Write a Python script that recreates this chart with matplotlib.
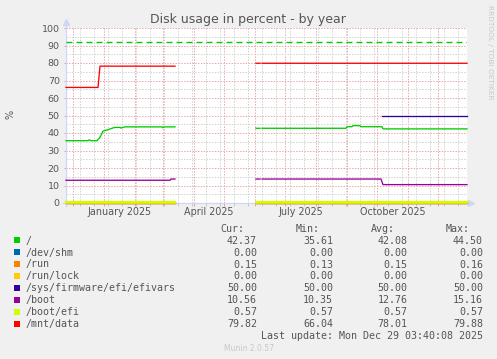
import numpy as np
import pandas as pd
import matplotlib
matplotlib.use("Agg")
import matplotlib.pyplot as plt
from matplotlib.patches import Rectangle

nan = np.nan

# days since 2024-11-24 (400 day munin "by year" window)
root_x = [0, 22, 23, 24, 25, 31, 34, 36, 37, 41, 46, 49, 54, 55, 57, 59, 96, 97, 98, 109,
          150, 190, 194, 195, 196, 280, 281, 286, 287, 294, 295, 316, 317, 401]
root_y = [35.6, 35.6, 36.0, 36.0, 35.6, 35.6, 37.5, 39.8, 41.1, 41.7, 42.7, 43.2, 43.2, 42.8, 43.2, 43.5,
          43.5, 43.0, 43.5, 43.5,
          nan, 42.7, 42.7, nan, 42.7, 42.7, 43.6, 43.6, 44.2, 44.2, 43.6, 43.6, 42.35, 42.35]

flat_x = [0, 109, 150, 190, 194, 195, 196, 401]
shm_y = [0.0, 0.0, nan, 0.0, 0.0, nan, 0.0, 0.0]
run_y = [0.15, 0.15, nan, 0.15, 0.15, nan, 0.15, 0.15]
lock_y = [0.0, 0.0, nan, 0.0, 0.0, nan, 0.0, 0.0]
efi_y = [0.57, 0.57, nan, 0.57, 0.57, nan, 0.57, 0.57]

efivars_x = [316, 401]
efivars_y = [50.0, 50.0]

boot_x = [0, 104, 105, 109, 150, 190, 194, 195, 196, 315, 317, 401]
boot_y = [13.0, 13.0, 13.7, 13.7, nan, 13.7, 13.7, nan, 13.7, 13.7, 10.5, 10.5]

data_x = [0, 32, 34, 109, 150, 190, 194, 195, 196, 401]
data_y = [66.04, 66.04, 78.2, 78.2, nan, 79.85, 79.85, nan, 79.85, 79.85]

warning = 92

names = ["/", "/dev/shm", "/run", "/run/lock", "/sys/firmware/efi/efivars",
         "/boot", "/boot/efi", "/mnt/data"]
colors = ["#00CC00", "#0066B3", "#FF8000", "#FFCC00", "#330099",
          "#990099", "#CCFF00", "#FF0000"]
cur = [42.37, 0.00, 0.15, 0.00, 50.00, 10.56, 0.57, 79.82]
mins = [35.61, 0.00, 0.13, 0.00, 50.00, 10.35, 0.57, 66.04]
avgs = [42.08, 0.00, 0.15, 0.00, 50.00, 12.76, 0.57, 78.01]
maxs = [44.50, 0.00, 0.16, 0.00, 50.00, 15.16, 0.57, 79.88]

start = pd.Timestamp("2024-11-24")
month_starts = pd.date_range("2024-12-01", "2025-12-01", freq="MS")
month_days = np.array((month_starts - start).days)
label_months = pd.to_datetime(["2025-01-01", "2025-04-01", "2025-07-01", "2025-10-01"])
label_days = [(m - start).days + m.days_in_month / 2 for m in label_months]
label_text = [m.strftime("%B %Y") for m in label_months]

W, H = 497, 359
TXT = "#555555"
fig = plt.figure(figsize=(W / 100, H / 100), dpi=100, facecolor="#F0F0F0")


def fx(px):
    return px / W


def fy(py):
    return 1 - py / H


ax = fig.add_axes([fx(66), fy(203), fx(467) - fx(66), fy(28) - fy(203)])
ax.set_facecolor("white")
ax.set_xlim(0, 401)
ax.set_ylim(0, 100)
for s in ax.spines.values():
    s.set_visible(False)

ax.set_xticks(month_days)
ax.set_xticks(np.arange(13.5, 401, 14), minor=True)
ax.set_xticklabels([])
ax.set_yticks(range(0, 101, 10))
ax.set_yticks(range(5, 100, 10), minor=True)
ax.set_yticklabels([str(v) for v in range(0, 101, 10)], fontsize=6.8, color=TXT)
ax.tick_params(axis="x", which="major", length=2.2, width=0.72, color="#E8A0A0")
ax.tick_params(axis="x", which="minor", length=2.2, width=0.72, color="#C8C8C8")
ax.tick_params(axis="y", which="major", length=1.5, width=0.72, color="#E8A0A0", pad=3)
ax.tick_params(axis="y", which="minor", length=0)
ax.grid(which="major", color="#E8A8A8", ls=(0, (1.4, 1.4)), lw=0.72)
ax.grid(which="minor", color="#D2D2D2", ls=(0, (1.4, 1.4)), lw=0.72)
ax.set_axisbelow(True)

for d, t in zip(label_days, label_text):
    ax.text(d, -0.052, t, transform=ax.get_xaxis_transform(), ha="center", va="center",
            fontsize=6.9, color=TXT)

# axes lines + arrows
ax.plot([0, 0], [-0.015, 1.02], transform=ax.transAxes, color="#CFD6F8", lw=0.9, clip_on=False)
ax.plot([-0.007, 1.005], [0, 0], transform=ax.transAxes, color="#CFD6F8", lw=0.9, clip_on=False)
ax.plot([0], [1.032], transform=ax.transAxes, marker="^", ms=4, color="#CFD6F8", clip_on=False)
ax.plot([1.01], [0], transform=ax.transAxes, marker=">", ms=4, color="#CFD6F8", clip_on=False)

ax.axhline(warning, color="#00CC00", lw=1.0, ls=(0, (4.3, 2.9)))

lw = 0.95
ax.plot(root_x, root_y, color=colors[0], lw=lw, clip_on=False)
ax.plot(flat_x, shm_y, color=colors[1], lw=lw, clip_on=False)
ax.plot(flat_x, run_y, color=colors[2], lw=lw, clip_on=False)
ax.plot(flat_x, lock_y, color=colors[3], lw=lw, clip_on=False)
ax.plot(efivars_x, efivars_y, color=colors[4], lw=lw, clip_on=False)
ax.plot(boot_x, boot_y, color=colors[5], lw=lw, clip_on=False)
ax.plot(flat_x, efi_y, color=colors[6], lw=1.6, clip_on=False)
ax.plot(data_x, data_y, color=colors[7], lw=lw, clip_on=False)

# title and side texts
fig.text(fx(248), fy(19), "Disk usage in percent - by year", ha="center", va="center",
         fontsize=9, color=TXT)
fig.text(fx(10), fy(114), "%", ha="center", va="center", rotation=90, fontsize=7, color=TXT)
fig.text(fx(490), fy(52), "RRDTOOL / TOBI OETIKER", ha="center", va="center", rotation=270,
         fontsize=5.3, color="#C8C8C8")

# legend
mono = "DejaVu Sans Mono"
fs = 7.2
hdr_y = 228.5
for t, xr in zip(["Cur:", "Min:", "Avg:", "Max:"], [244.3, 320, 395, 470]):
    fig.text(fx(xr), fy(hdr_y + 3.6), t, ha="right", va="baseline", family=mono,
             fontsize=fs, color=TXT)

for i, n in enumerate(names):
    ry = 240 + 11.95 * i
    fig.patches.append(Rectangle((fx(14), fy(ry + 3)), 6 / W, 6 / H, transform=fig.transFigure,
                                 facecolor=colors[i], edgecolor="none"))
    fig.text(fx(26), fy(ry + 3.6), n, ha="left", va="baseline", family=mono, fontsize=fs, color=TXT)
    for v, xr in zip([cur[i], mins[i], avgs[i], maxs[i]], [257, 333, 407.3, 483]):
        fig.text(fx(xr), fy(ry + 3.6), "%.2f" % v, ha="right", va="baseline", family=mono,
                 fontsize=fs, color=TXT)

fig.text(fx(483), fy(338.7), "Last update: Mon Dec 29 03:40:08 2025", ha="right", va="baseline",
         family=mono, fontsize=fs, color=TXT)
fig.text(fx(248.7), fy(351), "Munin 2.0.57", ha="center", va="baseline", fontsize=5.5,
         color="#C8C8C8")

fig.savefig("out.png", dpi=100, facecolor=fig.get_facecolor())
